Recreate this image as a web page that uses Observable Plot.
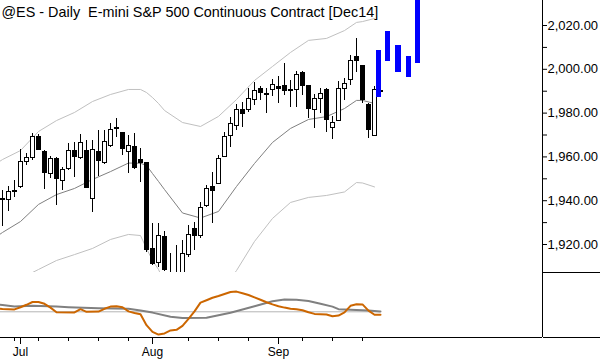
<!DOCTYPE html>
<html><head><meta charset="utf-8">
<script src="https://cdn.jsdelivr.net/npm/d3@7"></script>
<script src="https://cdn.jsdelivr.net/npm/@observablehq/plot@0.6"></script>
<style>
html,body{margin:0;padding:0;background:#fff;}
#chart{width:600px;height:360px;position:relative;overflow:hidden;background:#fff;}
#chart svg{display:block;}
</style></head><body><div id="chart"></div>
<script>
const title = "@ES - Daily\u00a0\u00a0E-mini S&P 500 Continuous Contract [Dec14]";

// Daily candles (trading-day index 0 = Jun 26 2014)
const opens  = [1940.3,1940.1,1944.1,1946.2,1957.6,1959.6,1969.0,1962.4,1952.3,1959.1,1949.2,1954.6,1962.9,1959.6,1962.9,1940.9,1962.2,1957.1,1964.8,1972.6,1970.8,1962.2,1964.4,1958.4,1957.3,1918.0,1911.5,1923.3,1906.0,1906.0,1904.5,1915.4,1926.9,1924.1,1937.8,1946.2,1947.7,1959.9,1969.4,1973.9,1981.5,1981.2,1986.1,1990.8,1988.3,1990.6,1991.9,1992.2,1990.1,1990.6,1998.2,1992.2,1981.2,1986.5,1990.6,1973.3,1976.6,1991.1,1995.2,2005.8,2001.7,1983.9,1969.5,1990.0];
const highs  = [1944.7,1946.5,1949.2,1963.4,1961.6,1970.7,1970.2,1962.9,1960.2,1959.9,1955.3,1966.1,1966.7,1970.1,1967.5,1967.5,1972.1,1972.1,1975.4,1977.4,1971.3,1969.8,1970.8,1963.7,1957.4,1929.5,1929.5,1925.9,1915.9,1919.6,1921.8,1928.7,1930.0,1939.3,1946.9,1953.0,1960.6,1971.1,1978.1,1983.9,1985.0,1991.1,1994.1,1992.2,1991.1,1995.2,1996.7,2002.5,1994.9,1999.1,1999.1,1992.2,1988.4,1991.1,1991.1,1978.5,1994.4,1995.7,2006.3,2013.9,2001.7,1984.3,1992.2,1990.4];
const lows   = [1928.2,1935.1,1941.6,1945.6,1956.1,1958.4,1962.9,1945.1,1950.1,1937.8,1944.7,1953.8,1950.7,1958.7,1945.4,1934.8,1951.1,1956.5,1964.4,1969.0,1960.6,1952.4,1954.1,1948.4,1916.5,1910.4,1909.6,1907.6,1903.0,1902.0,1903.5,1914.2,1917.3,1922.6,1936.9,1929.5,1947.4,1959.6,1964.4,1972.1,1973.3,1980.4,1983.5,1985.8,1979.7,1987.6,1984.5,1988.0,1982.7,1982.7,1988.0,1977.4,1973.1,1979.7,1971.3,1967.8,1976.3,1985.8,1992.6,1998.7,1984.3,1968.3,1969.5,1989.6];
const closes = [1940.6,1943.9,1944.5,1957.6,1959.6,1969.0,1963.2,1952.7,1959.1,1950.0,1954.1,1962.9,1959.9,1966.4,1945.9,1963.2,1958.0,1966.7,1972.4,1973.0,1963.7,1964.8,1954.8,1957.0,1917.3,1911.2,1924.1,1908.5,1905.0,1904.5,1915.8,1924.4,1923.7,1936.8,1945.4,1944.3,1959.1,1969.0,1975.1,1981.2,1979.4,1986.5,1990.3,1989.1,1988.6,1992.9,1990.8,1990.3,1990.4,1997.6,1992.2,1981.9,1986.5,1988.8,1976.9,1975.4,1991.1,1993.4,2003.7,2003.7,1986.1,1972.4,1990.6,1989.7];

// Bands and moving average
const bandIdx = [-1,0,3,6,9,12,15,18,21,23,24,25,26,27,30,33,36,39,42,45,48,51,54,57,59,60,62];
const upperBand = [1957.0,1958.8,1962.9,1971.6,1976.6,1980.3,1985.3,1988.5,1990.8,1990.8,1989.4,1987.1,1984.4,1981.2,1975.7,1973.9,1978.5,1986.2,1994.9,2001.3,2007.7,2013.2,2014.1,2017.7,2021.4,2021.8,2023.2];
const midBand   = [1923.6,1925.5,1930.5,1938.3,1942.8,1945.6,1949.7,1953.3,1957.2,1957.1,1956.1,1952.4,1948.8,1945.1,1934.4,1932.1,1935.1,1946.5,1957.0,1966.6,1973.0,1977.1,1978.4,1982.1,1985.8,1985.8,1984.4];
const lowerBand = [1899.0,1900.4,1904.5,1908.6,1912.7,1915.4,1918.2,1922.3,1924.6,1924.1,1918.2,1912.7,1908.6,1902.7,1895.4,1893.1,1897.6,1908.1,1921.4,1931.9,1939.2,1941.5,1942.4,1944.0,1948.3,1948.1,1946.3];

// Blue projection bars
const projIdx  = [62.75,64.33,66.0,67.67,69.33];
const projHigh = [2008.5,2017.3,2010.9,2005.8,2036.0];
const projLow  = [1987.3,2003.7,1998.7,1996.4,2002.5];

// Oscillator pane
const oscIdx = [-1,0,2,3,4,5,6,7,8,9,12,13,14,16,17,18,19,20,21,22,23,24,25,26,27,28,29,30,31,32,33,34,35,36,37,38,39,40,41,42,43,44,45,46,47,48,49,50,51,52,53,54,55,56,57,58,59,60,61,62,63];
const oscVal = [1.6,1.4,1.2,2.3,3.5,4.9,4.9,4.0,2.1,-0.2,-0.3,1.3,0,0.1,1.5,2.6,2.8,2.3,0.2,-0.6,-1.2,-6.7,-10.0,-11.4,-10.8,-9.3,-9.0,-7.0,-3.5,0.2,4.6,5.8,7.0,7.9,8.9,9.9,10.1,9.3,8.4,7.2,6.0,4.8,3.7,2.8,2.1,1.5,1.25,0.75,-0.25,-1.05,-1.2,-1.35,-2.2,-1.9,-0.3,3.0,3.8,3.7,0.6,-1.5,-1.5];
const sigIdx = [-1,0,2,5,9,11,16,21,23,25,28,30,34,38,42,45,47,49,51,53,55,56,58,61,63];
const sigVal = [3.6,3.4,2.7,3.0,2.6,2.3,1.8,1.5,0.7,-0.4,-2.5,-3.1,-3.0,-0.5,2.8,5.3,6.1,6.0,5.4,4.0,2.6,1.3,1.0,0.6,0.15];

// Time axis
const monthLabels = ["Jul","Aug","Sep"];
const monthIdx = [3,25,46];
const weekIdx = [2,6,11,16,21,31,36,41,50,55,60];

const candles = opens.map((o,i)=>({i, open:o, high:highs[i], low:lows[i], close:closes[i]}));
const bands = bandIdx.map((i,k)=>({i, upper:upperBand[k], mid:midBand[k], lower:lowerBand[k]}));
const proj = projIdx.map((i,k)=>({i, high:projHigh[k], low:projLow[k]}));
const osc = oscIdx.map((i,k)=>({i, v:oscVal[k]}));
const sig = sigIdx.map((i,k)=>({i, v:sigVal[k]}));

const xDomain = [-1/3, 90];
const priceDomain = [1907.22, 2031.42];
const oscDomain = [-12.85, 19.65];
const priceTicks = d3.range(1920, 2021, 10);
const fmt = d3.format(",.2f");
const font = "'Liberation Sans', Arial, sans-serif";

const topPlot = Plot.plot({
  width: 600, height: 272,
  marginLeft: 0, marginRight: 58, marginTop: 0, marginBottom: 0,
  style: {fontFamily: font, fontSize: "13px", color: "#000", background: "#fff", overflow: "visible"},
  x: {domain: xDomain, axis: null},
  y: {domain: priceDomain, axis: null},
  marks: [
    Plot.line(bands, {x: "i", y: "upper", stroke: "#c0c0c0", strokeWidth: 1, clip: true}),
    Plot.line(bands, {x: "i", y: "lower", stroke: "#c0c0c0", strokeWidth: 1, clip: true}),
    Plot.line(bands, {x: "i", y: "mid", stroke: "#808080", strokeWidth: 1, clip: true}),
    Plot.ruleX(candles, {x: "i", y1: "low", y2: "high", stroke: "#000", strokeWidth: 1, clip: true, shapeRendering: "crispEdges"}),
    Plot.rect(candles, {
      x1: d => d.i - 1/3, x2: d => d.i + 1/3,
      y1: d => Math.min(d.open, d.close), y2: d => Math.max(d.open, d.close),
      fill: d => d.close >= d.open ? "#fff" : "#000", stroke: "#000", strokeWidth: 1, clip: true, shapeRendering: "crispEdges"
    }),
    Plot.rect(proj, {x1: d => d.i - 0.4167, x2: d => d.i + 0.4167, y1: "low", y2: "high", fill: "#0000ff", clip: true, shapeRendering: "crispEdges"}),
    Plot.ruleX([xDomain[1]], {stroke: "#000"}),
    Plot.axisY(priceTicks, {anchor: "right", label: null, tickSize: 4, tickPadding: 1, tickFormat: d => d % 20 === 0 ? fmt(d) : ""}),
    Plot.text([title], {text: d => d, frameAnchor: "top-left", dx: 1, dy: 6, lineAnchor: "top", textAnchor: "start", fontSize: 14.4, fill: "#000"})
  ]
});

const bottomPlot = Plot.plot({
  width: 600, height: 88,
  marginLeft: 0, marginRight: 58, marginTop: 0, marginBottom: 23,
  style: {fontFamily: font, fontSize: "12px", color: "#000", background: "#fff", overflow: "visible"},
  x: {domain: xDomain, axis: null},
  y: {domain: oscDomain, axis: null},
  marks: [
    Plot.ruleY([0], {x1: d3.min(oscIdx), x2: d3.max(oscIdx), stroke: "#b4b4b4", strokeWidth: 1}),
    Plot.line(sig, {x: "i", y: "v", stroke: "#808080", strokeWidth: 2, clip: true}),
    Plot.line(osc, {x: "i", y: "v", stroke: "#cc6600", strokeWidth: 2, clip: true}),
    Plot.ruleX([xDomain[1]], {stroke: "#000"}),
    Plot.ruleY([oscDomain[0]], {stroke: "#000"}),
    Plot.axisY([oscDomain[0], oscDomain[1]], {anchor: "right", label: null, tickSize: 58, tickFormat: () => ""}),
    Plot.axisX(weekIdx, {anchor: "bottom", label: null, tickSize: 4, tickFormat: () => ""}),
    Plot.axisX(monthIdx, {anchor: "bottom", label: null, tickSize: 7, tickPadding: 3, tickFormat: d => monthLabels[monthIdx.indexOf(d)]})
  ]
});

const root = document.getElementById("chart");
root.appendChild(topPlot);
root.appendChild(bottomPlot);
</script>
</body></html>
